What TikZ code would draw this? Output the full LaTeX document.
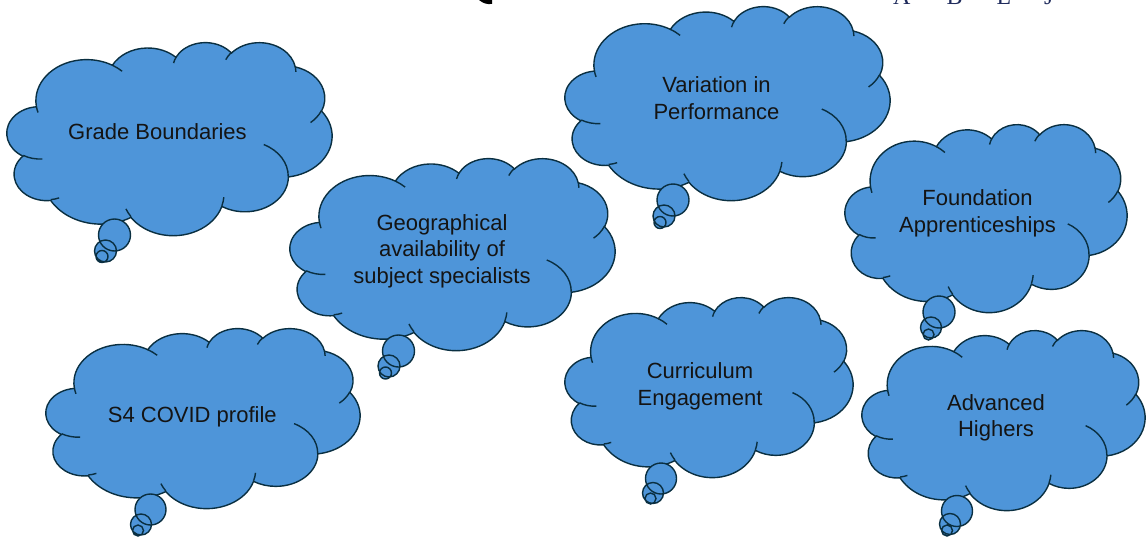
\documentclass[tikz,border=0pt]{standalone}
\usepackage{fontspec}
\setmainfont{Liberation Sans}
\newfontfamily\crestfont{Liberation Serif}
\usepackage{tikz}

\definecolor{cloudblue}{HTML}{4E95D9}
\definecolor{cloudedge}{HTML}{0A2F41}
\definecolor{crestnavy}{HTML}{1F2B5C}

\tikzset{
	cloudfill/.style={fill=cloudblue, draw=cloudedge, line width=1.4pt},
	cloudline/.style={draw=cloudedge, line width=1.4pt},
	cloudtext/.style={align=center, text=black!92, font=\fontsize{22}{26.5}\selectfont}
}

% one lobe of the cloud, angles as seen on the ellipse
\def\parc#1#2#3#4{arc[x radius=#1, y radius=#2, start angle={pang(#3,#1,#2)}, end angle={pang(#3+#4,#1,#2)}]}

% outline in a 43.2 x 43.2 box, y pointing down
\def\cloudoutline{(3.900,14.370)
	\parc{6.753}{9.190}{-190.48748}{123.78053}
	\parc{5.333}{7.267}{-144.10238}{89.94523}
	\parc{4.365}{5.945}{-145.80792}{99.72302}
	\parc{4.857}{6.595}{-130.98607}{117.24173}
	\parc{5.333}{7.273}{-78.70888}{109.02692}
	\parc{6.775}{9.220}{-46.26725}{130.269}
	\parc{5.785}{7.867}{0.62502}{114.03333}
	\parc{6.752}{9.215}{22.4516}{115.17255}
	\parc{7.720}{10.543}{66.24263}{75.71102}
	\parc{4.360}{5.918}{-274.94208}{146.73557}
	\parc{4.345}{5.945}{-246.8285}{152.51885}
	-- cycle}

% the short creases inside the cloud
\def\cloudcreases{(4.693,26.177) \parc{4.345}{5.945}{86.742}{26.4295}
	(6.928,34.899) \parc{4.360}{5.918}{73.6105}{11.4475}
	(16.478,39.090) \parc{6.752}{9.215}{137.6242}{14.0811}
	(28.827,34.751) \parc{6.752}{9.215}{6.4533}{15.9984}
	(34.129,22.954) \parc{5.785}{7.867}{-70.2924}{70.9174}
	(41.798,15.354) \parc{5.333}{7.273}{30.3180}{27.7515}
	(38.324,5.426) \parc{4.857}{6.595}{-13.7443}{14.8589}
	(29.078,3.952) \parc{4.857}{6.595}{-149.1815}{18.1954}
	(22.141,4.720) \parc{4.365}{5.945}{-163.4943}{17.6864}
	(14.000,5.192) \parc{6.753}{9.190}{-66.7070}{12.3194}
	(4.127,15.789) \parc{6.753}{9.190}{157.6544}{11.8582}}

\def\thoughtcloud(#1,#2)(#3,#4){%
	\begin{scope}[shift={(#1,#2)}, x={({#3/43.2},0)}, y={(0,{#4/43.2})}]
		\filldraw[cloudfill] \cloudoutline;
		\draw[cloudline] \cloudcreases;
	\end{scope}}

\begin{document}
\begin{tikzpicture}[x=1pt, y=-1pt,
	declare function={pang(\x,\a,\b)=\x+atan2((\a-\b)*sin(\x)*cos(\x),\b*cos(\x)*cos(\x)+\a*sin(\x)*sin(\x));}]
		%%%%% START %%%%%
		
		\clip (0,0) rectangle (1148,538);
		
		% bits of the header, cut off by the frame
		\fill[black] (479,0) .. controls (483,3.5) and (488,4.8) .. (492,3.8) -- (492,0) -- cycle;
		\node[anchor=base west, inner sep=0pt, text=crestnavy, font=\crestfont\fontsize{24}{24}\selectfont] (crest) at (893,4.5) {A\hspace{36pt}B\hspace{34pt}L\hspace{33pt}J};
		
		\thoughtcloud(7,42)(325,193)
		\filldraw[cloudfill] (114.5,235) circle[radius=16] (105.5,251) circle[radius=11] (102,256.5) circle[radius=6];
		
		\thoughtcloud(290,158)(325,192)
		\filldraw[cloudfill] (398.5,351) circle[radius=16] (389,366) circle[radius=11] (385.5,373) circle[radius=6];
		
		\thoughtcloud(565,6)(325,194)
		\filldraw[cloudfill] (673,200) circle[radius=16] (664,216) circle[radius=11] (660,222.5) circle[radius=6];
		
		\thoughtcloud(845,124)(282,188)
		\filldraw[cloudfill] (939,312) circle[radius=16] (931,327.5) circle[radius=10.5] (928.5,334.5) circle[radius=5.5];
		
		\thoughtcloud(46,328)(314,180)
		\filldraw[cloudfill] (150.5,509.5) circle[radius=15.5] (141,524.5) circle[radius=10.5] (138,530.5) circle[radius=5.5];
		
		\thoughtcloud(565,297)(288,180)
		\filldraw[cloudfill] (661,478.5) circle[radius=15.5] (653,493) circle[radius=10.5] (650.5,498.5) circle[radius=5.5];
		
		\thoughtcloud(862,330)(283,180)
		\filldraw[cloudfill] (957,511) circle[radius=15.5] (950,524) circle[radius=10.5] (947,530.5) circle[radius=5.5];
		
		\node[cloudtext] (grade) at (157.5,132) {Grade Boundaries};
		\node[cloudtext] (geography) at (442,251) {Geographical\\availability of\\subject specialists};
		\node[cloudtext] (variation) at (716.5,98) {Variation in\\Performance};
		\node[cloudtext] (foundation) at (977.5,213.5) {Foundation\\Apprenticeships};
		\node[cloudtext] (covid) at (192.3,416.5) {S4 COVID profile};
		\node[cloudtext] (curriculum) at (700,386.5) {Curriculum\\Engagement};
		\node[cloudtext] (advanced) at (996,418) {Advanced\\Highers};
		
		%%%%% END %%%%%
\end{tikzpicture}
\end{document}
